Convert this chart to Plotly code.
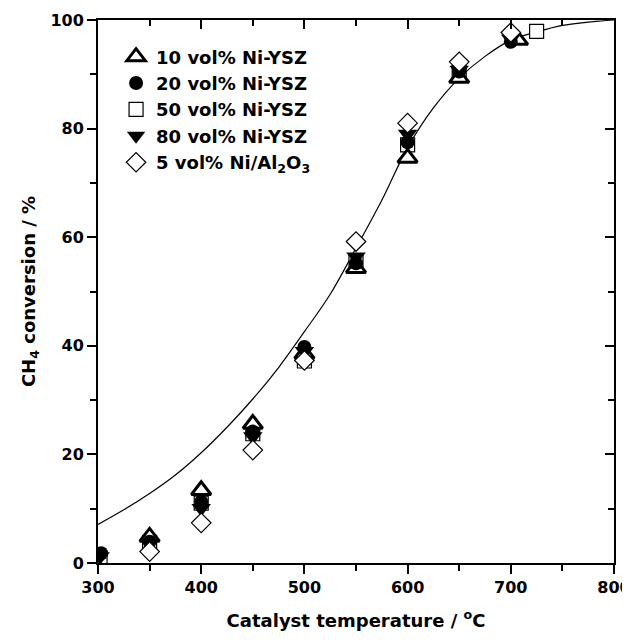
import plotly.graph_objects as go

# Fitted curve
curve_T = [300, 325, 350, 375, 400, 425, 450, 475, 500, 525, 550, 575, 600, 625, 650, 675, 700, 725, 750, 775, 800]
curve_v = [7.1, 9.8, 12.8, 16.2, 20.3, 25.0, 30.2, 36.0, 42.6, 49.5, 58.0, 66.8, 76.5, 83.8, 89.3, 93.3, 96.3, 97.8, 99.0, 99.6, 100.0]

# Series
T10 = [350, 400, 450, 500, 550, 600, 650, 707]
v10 = [4.8, 13.4, 25.6, 38.5, 54.3, 74.6, 89.3, 96.3]

T20 = [303, 350, 400, 450, 500, 550, 600, 650, 700]
v20 = [1.8, 3.9, 11.3, 24.2, 39.8, 55.2, 77.5, 90.5, 96.0]

T50 = [302, 350, 400, 450, 500, 550, 600, 650, 725]
v50 = [0.3, 3.8, 11.0, 23.8, 37.2, 55.5, 77.0, 90.3, 97.9]

T80 = [302, 350, 400, 450, 500, 550, 600, 650, 700]
v80 = [1.2, 3.6, 10.1, 23.3, 39.0, 56.4, 79.0, 90.8, 96.5]

T5 = [350, 400, 450, 500, 550, 600, 650, 700]
v5 = [2.1, 7.4, 20.8, 37.3, 59.2, 81.0, 92.3, 97.7]

names = ["10 vol% Ni-YSZ", "20 vol% Ni-YSZ", "50 vol% Ni-YSZ", "80 vol% Ni-YSZ",
         "5 vol% Ni/Al<sub>2</sub>O<sub>3</sub>"]

FONT = "DejaVu Sans"

fig = go.Figure()

fig.add_trace(go.Scatter(x=curve_T, y=curve_v, mode="lines", line=dict(color="black", width=1.2, shape="spline"),
                         showlegend=False, hoverinfo="skip"))

# draw order: square at bottom, legend order set via legendrank
fig.add_trace(go.Scatter(x=T50, y=v50, mode="markers", name=names[2], legendrank=3,
                         marker=dict(symbol="square", size=14, color="white", line=dict(color="black", width=1.2))))
fig.add_trace(go.Scatter(x=T10, y=v10, mode="markers", name=names[0], legendrank=1,
                         marker=dict(symbol="triangle-up", size=17, color="white", line=dict(color="black", width=3))))
fig.add_trace(go.Scatter(x=T20, y=v20, mode="markers", name=names[1], legendrank=2,
                         marker=dict(symbol="circle", size=14, color="black", line=dict(color="black", width=0))))
fig.add_trace(go.Scatter(x=T80, y=v80, mode="markers", name=names[3], legendrank=4,
                         marker=dict(symbol="triangle-down", size=17, color="black", line=dict(color="black", width=0))))
fig.add_trace(go.Scatter(x=T5, y=v5, mode="markers", name=names[4], legendrank=5,
                         marker=dict(symbol="diamond", size=15, color="white", line=dict(color="black", width=1.2))))

# helper trace for the mirrored (top/right) axes
fig.add_trace(go.Scatter(x=[300], y=[0], xaxis="x2", yaxis="y2", mode="markers",
                         marker=dict(opacity=0), showlegend=False, hoverinfo="skip"))

tickfont = dict(family=FONT, size=16, color="black", weight="bold")

# page body has an 8px margin: the figure is shifted by 8px right and down
fig.update_layout(
    width=622, height=634,
    margin=dict(l=90, r=16, t=12, b=79, autoexpand=False),
    paper_bgcolor="white", plot_bgcolor="white",
    font=dict(family=FONT, color="black"),
    showlegend=True,
    legend=dict(x=0.035, y=0.966, xanchor="left", yanchor="top", bgcolor="rgba(0,0,0,0)",
                font=dict(family=FONT, size=18, color="black", weight="bold"),
                tracegroupgap=0, itemsizing="trace"),
    xaxis=dict(range=[300, 800], dtick=100, tick0=300, ticks="outside", ticklen=9, tickwidth=2,
               tickcolor="black", showline=True, linewidth=2, linecolor="black", showgrid=False,
               zeroline=False, tickfont=tickfont, ticklabeloverflow="allow",
               minor=dict(dtick=50, ticks="outside", ticklen=6, tickwidth=2, tickcolor="black", showgrid=False),
               title=dict(text="Catalyst temperature / <sup>o</sup>C", standoff=18,
                          font=dict(family=FONT, size=18, color="black", weight="bold"))),
    yaxis=dict(range=[0, 100], dtick=20, ticks="outside", ticklen=9, tickwidth=2,
               tickcolor="black", showline=True, linewidth=2, linecolor="black", showgrid=False,
               zeroline=False, tickfont=tickfont, ticklabeloverflow="allow",
               minor=dict(dtick=10, ticks="outside", ticklen=6, tickwidth=2, tickcolor="black", showgrid=False),
               title=dict(text="CH<sub>4</sub> conversion / %", standoff=10,
                          font=dict(family=FONT, size=18, color="black", weight="bold"))),
    xaxis2=dict(overlaying="x", side="top", range=[300, 800], dtick=100, tick0=300, ticks="inside",
                ticklen=9, tickwidth=2, tickcolor="black", showline=True, linewidth=2, linecolor="black",
                showgrid=False, zeroline=False, showticklabels=False,
                minor=dict(dtick=50, ticks="inside", ticklen=6, tickwidth=2, tickcolor="black", showgrid=False)),
    yaxis2=dict(overlaying="y", side="right", range=[0, 100], dtick=20, ticks="inside",
                ticklen=9, tickwidth=2, tickcolor="black", showline=True, linewidth=2, linecolor="black",
                showgrid=False, zeroline=False, showticklabels=False,
                minor=dict(dtick=10, ticks="inside", ticklen=6, tickwidth=2, tickcolor="black", showgrid=False)),
)

fig.write_html("out.html")
